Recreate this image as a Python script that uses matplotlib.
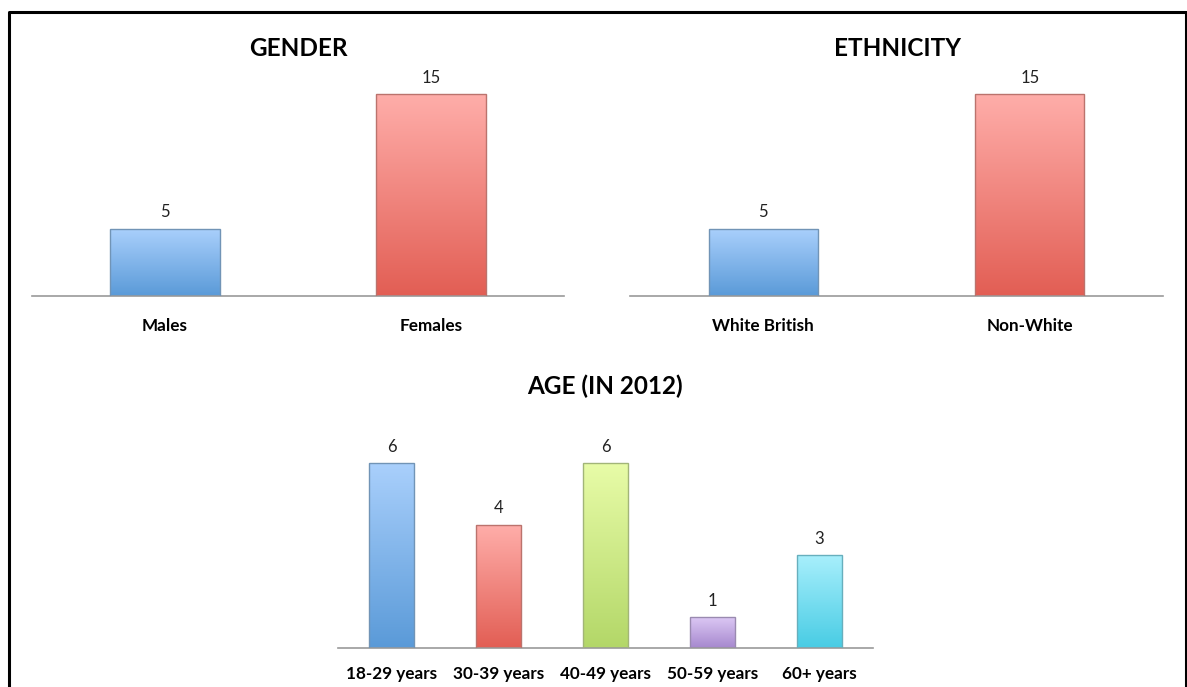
import numpy as np
import matplotlib
matplotlib.use("Agg")
import matplotlib.pyplot as plt
from matplotlib.colors import LinearSegmentedColormap
from matplotlib.lines import Line2D

plt.rcParams['font.family'] = ['Lato', 'DejaVu Sans']

# ---- data ----
gender_cats = ["Males", "Females"]
gender_vals = [5, 15]
eth_cats = ["White British", "Non-White"]
eth_vals = [5, 15]
age_cats = ["18-29 years", "30-39 years", "40-49 years", "50-59 years", "60+ years"]
age_vals = [6, 4, 6, 1, 3]

# gradient colours (top, bottom)
BLUE = ("#AAD0FC", "#5A9AD8")
RED = ("#FFAEAA", "#E25E54")
GREEN = ("#E8FCA8", "#B3D768")
PURPLE = ("#DCC8F4", "#A688CE")
CYAN = ("#A8EFFC", "#48CCE4")

W, H = 1187, 687
fig = plt.figure(figsize=(W / 100, H / 100), dpi=100)


def px_axes(x0, x1, y_base, y_top):
    # pixel box -> figure fraction
    return fig.add_axes([x0 / W, (H - y_base) / H, (x1 - x0) / W, (y_base - y_top) / H])


def grad_bars(ax, cats, vals, colors, width, ymax, pad):
    x = np.arange(len(cats))
    bars = ax.bar(x, vals, width=width, color="none", zorder=2)
    for b, (top, bot) in zip(bars, colors):
        cmap = LinearSegmentedColormap.from_list("g", [bot, top])
        bx, by = b.get_x(), b.get_y()
        bw, bh = b.get_width(), b.get_height()
        grad = np.linspace(0, 1, 256).reshape(-1, 1)
        im = ax.imshow(grad, cmap=cmap, origin="lower", aspect="auto",
                       extent=[bx, bx + bw, by, by + bh], zorder=2)
        im.set_clip_path(b)
        # soft greyish outline
        edge = matplotlib.colors.to_rgb(bot)
        edge = tuple(0.55 * c + 0.45 * 0.55 for c in edge)
        b.set_edgecolor(edge)
        b.set_linewidth(1.0)
        b.set_zorder(3)
        ax.annotate(str(int(bh)), (bx + bw / 2, bh), xytext=(0, 6),
                    textcoords="offset points", ha="center", va="bottom",
                    fontsize=12, color="#222222")
    ax.set_xlim(-0.5, len(cats) - 0.5)
    ax.set_ylim(0, ymax)
    ax.set_xticks(x)
    ax.set_xticklabels(cats, fontweight="bold", fontsize=12.3)
    ax.set_yticks([])
    for s in ["top", "right", "left"]:
        ax.spines[s].set_visible(False)
    ax.spines["bottom"].set_color("#9a9a9a")
    ax.spines["bottom"].set_linewidth(1.2)
    ax.tick_params(axis="x", length=0, pad=pad)


ax1 = px_axes(32, 564, 296, 67)
grad_bars(ax1, gender_cats, gender_vals, [BLUE, RED], 0.41, 17, 16)

ax2 = px_axes(630, 1163, 296, 67)
grad_bars(ax2, eth_cats, eth_vals, [BLUE, RED], 0.41, 17, 16)

ax3 = px_axes(338, 873, 648, 432)
grad_bars(ax3, age_cats, age_vals, [BLUE, RED, GREEN, PURPLE, CYAN], 0.42, 7, 13)

fig.text(298 / W, 1 - 49 / H, "GENDER", ha="center", va="center",
         fontsize=17.5, fontweight="bold")
fig.text(897 / W, 1 - 49 / H, "ETHNICITY", ha="center", va="center",
         fontsize=17.5, fontweight="bold")
fig.text(605 / W, 1 - 386 / H, "AGE (IN 2012)", ha="center", va="center",
         fontsize=17.5, fontweight="bold")

# black frame (open at the bottom)
fx = [9.5 / W, 9.5 / W, 1185.5 / W, 1185.5 / W]
fy = [0, 1 - 12 / H, 1 - 12 / H, 0]
fig.add_artist(Line2D(fx, fy, transform=fig.transFigure, color="black", lw=2.2))

fig.savefig("out.png", dpi=100)
